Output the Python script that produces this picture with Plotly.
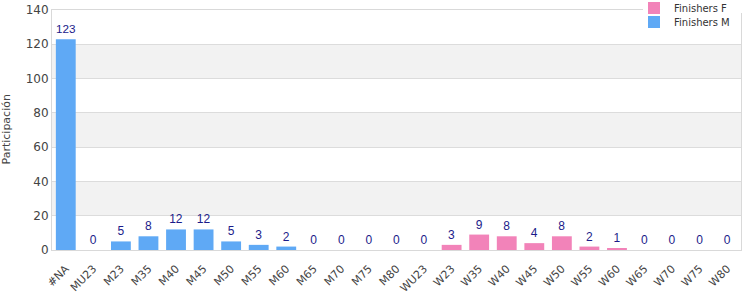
import plotly.graph_objects as go

categories = ["#NA", "MU23", "M23", "M35", "M40", "M45", "M50", "M55", "M60", "M65",
              "M70", "M75", "M80", "WU23", "W23", "W35", "W40", "W45", "W50", "W55",
              "W60", "W65", "W70", "W75", "W80"]
finishers_m = [123, 0, 5, 8, 12, 12, 5, 3, 2, 0, 0, 0, 0, 0,
               None, None, None, None, None, None, None, None, None, None, None]
finishers_f = [None, None, None, None, None, None, None, None, None, None, None, None, None, None,
               3, 9, 8, 4, 8, 2, 1, 0, 0, 0, 0]
y_ticks = [0, 20, 40, 60, 80, 100, 120, 140]

blue = "#5fa9f5"
pink = "#f283b9"
label_color = "#1b1b8a"

fig = go.Figure()
fig.add_trace(go.Bar(
    x=categories, y=finishers_f, name="Finishers F", legend="legend",
    marker=dict(color=pink, line=dict(width=0)),
    text=[("" if v is None else str(v)) for v in finishers_f],
    textposition="outside", cliponaxis=False,
    textfont=dict(color=label_color, size=12, family="Liberation Sans"),
))
fig.add_trace(go.Bar(
    x=categories, y=finishers_m, name="Finishers M", legend="legend2",
    marker=dict(color=blue, line=dict(width=0)),
    text=[("" if v is None else str(v)) for v in finishers_m],
    textposition="outside", cliponaxis=False,
    textfont=dict(color=label_color, size=12, family="Liberation Sans"),
))

shapes = []
for i in range(1, len(y_ticks) - 1, 2):
    shapes.append(dict(type="rect", xref="paper", yref="y", x0=0, x1=1,
                       y0=y_ticks[i], y1=y_ticks[i + 1], fillcolor="#f2f2f2",
                       line=dict(width=0), layer="below"))

def px_y(py):
    return 1 - (py - 10) / 240

legend_common = dict(x=(634 - 52) / 689, xanchor="left", yanchor="middle",
                     bgcolor="rgba(255,255,255,0)", borderwidth=0,
                     font=dict(size=10, color="#333333"), itemwidth=30)

fig.update_layout(
    width=750, height=300,
    margin=dict(l=52, r=9, t=10, b=50, autoexpand=False),
    paper_bgcolor="white", plot_bgcolor="white",
    barmode="overlay", bargap=0.28,
    font=dict(family="DejaVu Sans", size=11, color="#444444"),
    shapes=shapes + [dict(type="rect", xref="paper", yref="paper",
                          x0=(643 - 52) / 689, x1=1.02, y0=px_y(13), y1=px_y(0),
                          fillcolor="white", line=dict(width=0), layer="above")],
    showlegend=True,
    legend=dict(y=px_y(8), **legend_common),
    legend2=dict(y=px_y(22), **legend_common),
    annotations=[dict(text="Participación", xref="paper", yref="paper",
                      x=-52 / 689, xanchor="left", y=0.5, yanchor="middle",
                      textangle=-90, showarrow=False, xshift=-3,
                      font=dict(size=11, color="#444444"))],
    xaxis=dict(type="category", tickangle=-45, showgrid=False,
               showline=True, linecolor="#d9d9d9", linewidth=1, mirror=True,
               ticks="outside", ticklen=7, tickcolor="rgba(0,0,0,0)",
               automargin=False,
               tickfont=dict(size=11, color="#444444")),
    yaxis=dict(range=[0, 140], tickvals=y_ticks, showgrid=True,
               gridcolor="#dcdcdc", gridwidth=1,
               showline=True, linecolor="#d9d9d9", linewidth=1, mirror=True,
               zeroline=False, ticks="", automargin=False,
               tickfont=dict(size=12, color="#444444")),
)

fig.write_html("out.html")
